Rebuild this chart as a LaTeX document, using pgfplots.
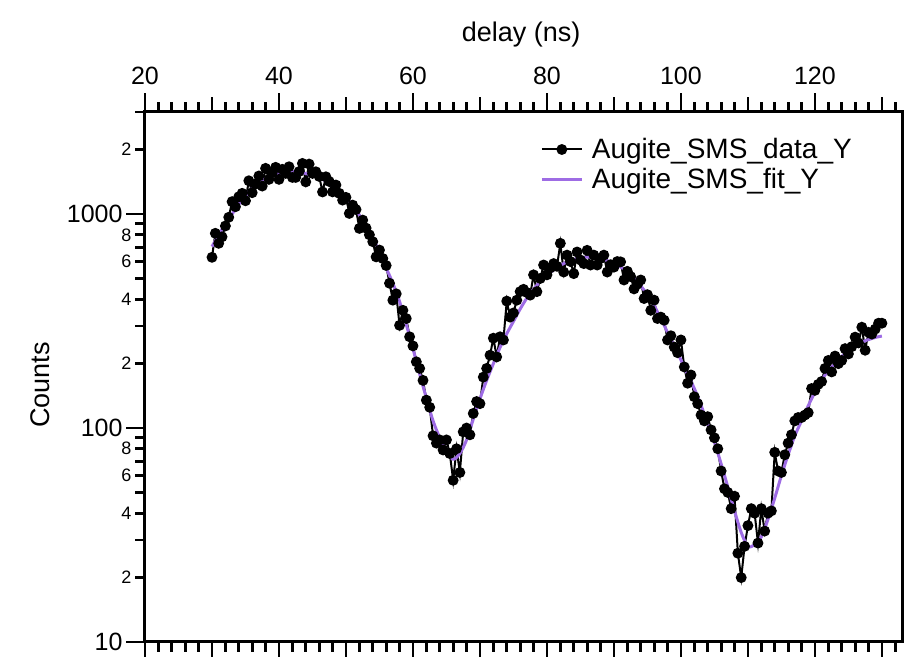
\documentclass[border=0pt]{standalone}
\usepackage{pgfplots}
\usepackage{pgfplotstable}
\pgfplotsset{compat=1.18}
\usepackage{fontspec}
\setmainfont{Liberation Sans}
\definecolor{fitpurple}{RGB}{158,108,228}

\pgfplotstableread{
x y
30.0 628
30.5 813
31.0 730
31.5 783
32.0 880
32.5 966
33.0 1143
33.5 1082
34.0 1205
34.5 1250
35.0 1154
35.5 1431
36.0 1259
36.5 1380
37.0 1507
37.5 1352
38.0 1636
38.5 1453
39.0 1560
39.5 1654
40.0 1453
40.5 1619
41.0 1550
41.5 1664
42.0 1484
42.5 1484
43.0 1580
43.5 1725
44.0 1414
44.5 1713
45.0 1549
45.5 1577
46.0 1500
46.5 1269
47.0 1494
47.5 1420
48.0 1270
48.5 1367
49.0 1250
49.5 1162
50.0 1197
50.5 1007
51.0 1101
51.5 1050
52.0 857
52.5 937
53.0 860
53.5 800
54.0 743
54.5 631
55.0 679
55.5 620
56.0 575
56.5 475
57.0 396
57.5 424
58.0 302
58.5 355
59.0 325
59.5 267
60.0 242
60.5 204
61.0 190
61.5 167
62.0 135
62.5 125
63.0 92
63.5 85
64.0 88
64.5 79
65.0 88
65.5 76
66.0 57
66.5 80
67.0 62
67.5 96
68.0 100
68.5 93
69.0 117
69.5 133
70.0 130
70.5 173
71.0 190
71.5 219
72.0 263
72.5 215
73.0 267
73.5 258
74.0 392
74.5 330
75.0 345
75.5 396
76.0 434
76.5 445
77.0 430
77.5 418
78.0 520
78.5 434
79.0 500
79.5 578
80.0 520
80.5 560
81.0 587
81.5 570
82.0 730
82.5 536
83.0 643
83.5 600
84.0 527
84.5 665
85.0 610
85.5 587
86.0 677
86.5 578
87.0 643
87.5 578
88.0 620
88.5 643
89.0 536
89.5 580
90.0 565
90.5 600
91.0 598
91.5 492
92.0 540
92.5 510
93.0 447
93.5 470
94.0 492
94.5 403
95.0 420
95.5 355
96.0 396
96.5 325
97.0 330
97.5 319
98.0 258
98.5 270
99.0 239
99.5 225
100.0 258
100.5 193
101.0 162
101.5 177
102.0 140
102.5 130
103.0 115
103.5 108
104.0 113
104.5 98
105.0 90
105.5 80
106.0 63
106.5 52
107.0 50
107.5 42
108.0 48
108.5 26
109.0 20
109.5 28
110.0 35
110.5 42
111.0 40
111.5 29
112.0 42
112.5 33
113.0 40
113.5 41
114.0 77
114.5 63
115.0 62
115.5 75
116.0 85
116.5 93
117.0 108
117.5 112
118.0 112
118.5 115
119.0 118
119.5 153
120.0 150
120.5 160
121.0 165
121.5 190
122.0 207
122.5 183
123.0 217
123.5 200
124.0 207
124.5 235
125.0 222
125.5 240
126.0 266
126.5 250
127.0 296
127.5 231
128.0 280
128.5 275
129.0 290
129.5 309
130.0 309
}\datatable

\pgfplotstableread{
x y
30 705
31 800
32 900
33 1000
34 1110
35 1220
36 1320
37 1400
38 1470
39 1520
40 1555
41 1575
42 1580
43 1570
44 1548
45 1515
46 1478
47 1425
48 1360
49 1285
50 1195
51 1095
52 990
53 890
54 778
55 662
56 560
57 475
58 390
59 305
60 235
61 179
62 138
63 108
64 90
65 78
66 71.5
67 76
68 88
69 110
70 137
71 167
72 200
73 238
74 276
75 315
76 360
77 405
78 445
79 485
80 518
81 548
82 575
83 598
84 613
85 624
86 630
87 628
88 620
89 606
90 590
91 566
92 537
93 502
94 462
95 420
96 374
97 325
98 280
99 242
100 208
101 178
102 153
103 128
104 104
105 86
106 68
107 53
108 41
109 32.5
110 28
111 28.5
112 31
113 37.5
114 47
115 60
116 75
117 92
118 108
119 127
120 147
121 168
122 185
123 200
124 216
125 229
126 241
127 252
128 259
129 265
130 269
}\fittable

\begin{document}
\begin{tikzpicture}
\begin{axis}[
  scale only axis, width=757pt, height=530pt,
  xmin=20, xmax=133, ymin=10, ymax=3000, ymode=log,
  axis line style={line width=3pt},
  every tick/.style={line width=2.8pt, black},
  tick align=outside,
  xtick pos=both, ytick pos=left,
  xticklabel pos=upper,
  major tick length=19pt,
  minor tick length=10pt,
  xtick={20,40,60,80,100,120},
  xticklabels={20,40,60,80,100,120},
  minor xtick={22,24,...,132},
  extra x ticks={30,50,70,90,110,130},
  extra x tick labels={},
  extra x tick style={major tick length=15pt},
  ytick={10,100,1000},
  yticklabels={10,100,1000},
  minor ytick={30,50,70,90,300,500,700,900,3000},
  extra y ticks={20,40,60,80,200,400,600,800,2000},
  extra y tick labels={2,4,6,8,2,4,6,8,2},
  extra y tick style={major tick length=10pt, yticklabel style={font=\fontsize{18}{18}\selectfont}},
  /pgf/number format/assume math mode=true,
  tick label style={font=\fontsize{25}{25}\selectfont},
  xticklabel style={yshift=5pt},
  xlabel={delay (ns)},
  ylabel={Counts},
  label style={font=\fontsize{27}{27}\selectfont},
  xlabel style={at={(axis description cs:0.497,1)}, anchor=center, yshift=77pt},
  ylabel style={at={(axis description cs:0,0.485)}, anchor=center, yshift=105pt},
  legend style={draw=none, fill=none, at={(axis description cs:0.522,0.953)}, anchor=north west,
    font=\fontsize{28}{30}\selectfont, row sep=5pt, inner sep=0pt, nodes={inner sep=1.5pt},
    /tikz/every odd column/.append style={column sep=7pt}},
  legend cell align=left,
  legend image code/.code={\draw[mark repeat=2,mark phase=2,#1] plot coordinates {(0pt,0pt) (20pt,0pt) (40pt,0pt)};},
  clip=false,
]
\addplot[black, line width=2pt, mark=*, mark size=4.4pt] table[x=x,y=y] {\datatable};
\addlegendentry{Augite\_SMS\_data\_Y}
\addplot[fitpurple, line width=3pt, smooth] table[x=x,y=y] {\fittable};
\addlegendentry{Augite\_SMS\_fit\_Y}
\end{axis}
\pgfresetboundingbox
\path[use as bounding box] ([xshift=-145pt,yshift=-14pt]current axis.south west) rectangle ([xshift=8pt,yshift=112pt]current axis.north east);
\end{tikzpicture}
\end{document}
